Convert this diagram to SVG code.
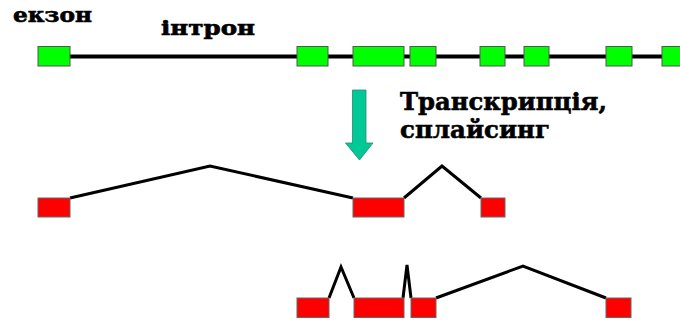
<svg xmlns="http://www.w3.org/2000/svg" width="680" height="320" viewBox="0 0 680 320">
<style>
.g{fill:#00FF00;stroke:#555;stroke-width:1}
.r{fill:#FF0000;stroke:#666;stroke-width:1}
.ln{fill:none;stroke:#000;stroke-width:3;stroke-linejoin:miter}
.t{font-family:"DejaVu Serif","Liberation Serif",serif;font-weight:bold;fill:#000;stroke:#000;stroke-width:0.6}
</style>
<rect width="680" height="320" fill="#fff"/>
<g id="labels">
<text class="t" x="13" y="22" font-size="20" textLength="79" lengthAdjust="spacingAndGlyphs">екзон</text>
<text class="t" x="161" y="35" font-size="20" textLength="94" lengthAdjust="spacingAndGlyphs">інтрон</text>
<text class="t" x="400" y="110" font-size="25" textLength="207" lengthAdjust="spacingAndGlyphs">Транскрипція,</text>
<text class="t" x="400" y="138" font-size="25" textLength="150" lengthAdjust="spacingAndGlyphs">сплайсинг</text>
</g>
<g id="connectors">
<line x1="38" y1="56.5" x2="680" y2="56.5" stroke="#000" stroke-width="4"/>
<polyline class="ln" points="70,198 210,166 353,198"/>
<polyline class="ln" points="404,198 442,166 481,198"/>
<polyline class="ln" points="329,298 341,267 354,298"/>
<polyline class="ln" points="403,298 407,265 411,298" stroke-width="2.5"/>
<polyline class="ln" points="436,298 523,266 606,298"/>
</g>
<g id="arrow">
<polygon points="352.5,90 366,90 366,143 373,143 359.5,160 345.5,143 352.5,143" fill="#00C896" stroke="#2a8a6a" stroke-width="0.8"/>
</g>
<g id="gene">
<rect class="g" x="38" y="46.5" width="32" height="19.5"/>
<rect class="g" x="297" y="46.5" width="31" height="19.5"/>
<rect class="g" x="353" y="46.5" width="51" height="19.5"/>
<rect class="g" x="410" y="46.5" width="26" height="19.5"/>
<rect class="g" x="480" y="46.5" width="25" height="19.5"/>
<rect class="g" x="524" y="46.5" width="25" height="19.5"/>
<rect class="g" x="606" y="46.5" width="26" height="19.5"/>
<rect class="g" x="662" y="46.5" width="26" height="19.5"/>
</g>
<g id="mrna1">
<rect class="r" x="38" y="198" width="32" height="19"/>
<rect class="r" x="353" y="198" width="51" height="19"/>
<rect class="r" x="481" y="198" width="24" height="19"/>
</g>
<g id="mrna2">
<rect class="r" x="297" y="298" width="32" height="19.5"/>
<rect class="r" x="354" y="298" width="50" height="19.5"/>
<rect class="r" x="411" y="298" width="25" height="19.5"/>
<rect class="r" x="606" y="298" width="25" height="19.5"/>
</g>
</svg>
